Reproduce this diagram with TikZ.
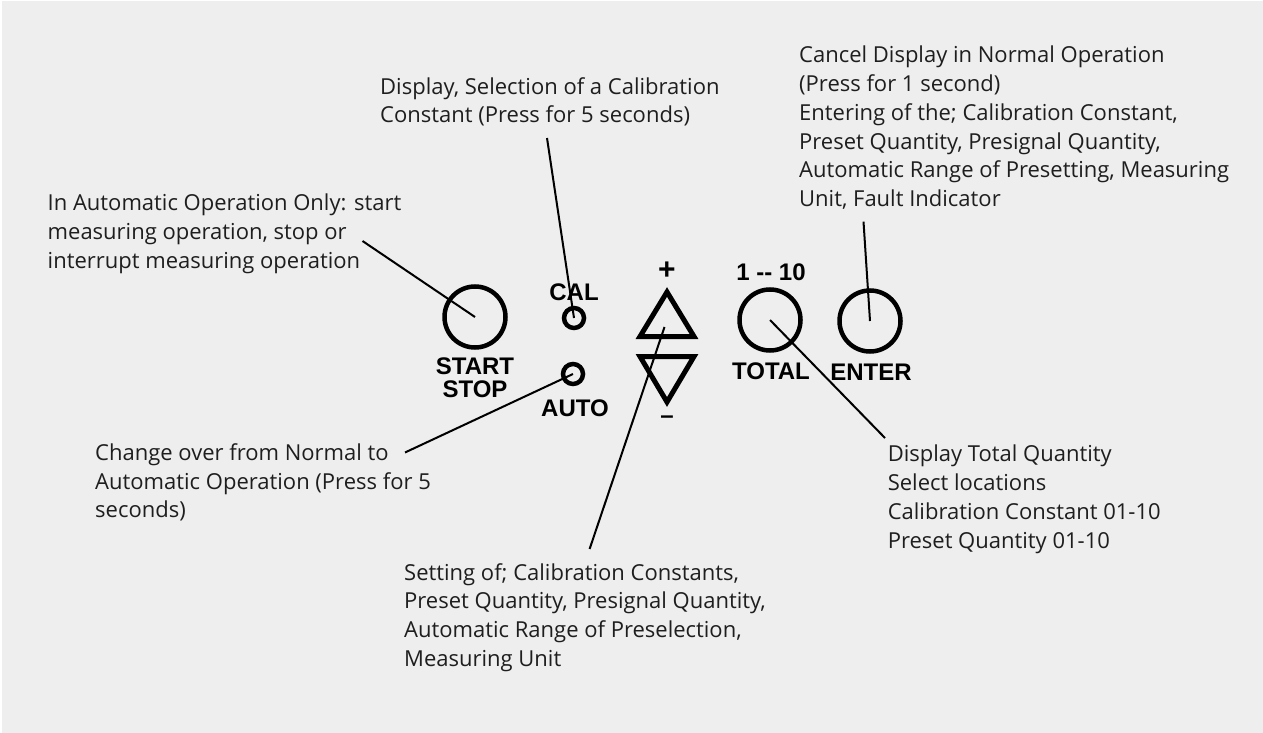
\documentclass[tikz,border=0pt]{standalone}
\usepackage{fontspec}
\setmainfont{Open Sans}
\newfontfamily\keyfont{Liberation Sans}
\definecolor{panelgray}{HTML}{EEEEEE}
\definecolor{notetext}{HTML}{1E1E1E}
\begin{document}
\begin{tikzpicture}[x=1pt,y=-1pt,
    note/.style={anchor=north west, inner sep=0pt, align=left, text=notetext,
      font=\fontsize{22}{28.7}\selectfont},
    key/.style={inner sep=0pt, font=\keyfont\bfseries\fontsize{24}{24}\selectfont},
    ring/.style={circle, draw, line width=4.5pt, minimum size=61pt, inner sep=0pt},
    led/.style={circle, draw, line width=4.5pt, minimum size=20pt, inner sep=0pt},
    leader/.style={line width=2pt}]
  % background
  \fill[white] (0,0) rectangle (1263,733);
  \fill[panelgray] (1.5,1.5) rectangle (1263,733);

  % keys
  \node[ring] (start) at (475,317) {};
  \node[key] (startlbl) at (475,366) {START};
  \node[key] (stoplbl) at (475,389) {STOP};
  \node[led] (cal) at (574,318) {};
  \node[key] (callbl) at (574,292) {CAL};
  \node[led] (auto) at (573,374) {};
  \node[key] (autolbl) at (575,408) {AUTO};
  \node[ring] (total) at (770,320) {};
  \node[key] (rangelbl) at (771,272) {1 -{}- 10};
  \node[key] (totallbl) at (771,371) {TOTAL};
  \node[ring] (enter) at (870,321) {};
  \node[key] (enterlbl) at (871,372) {ENTER};

  % plus / minus
  \draw[line width=5pt] (667,292) -- (694,336.5) -- (640,336.5) -- cycle;
  \draw[line width=5pt] (640,356.5) -- (694,356.5) -- (667,402) -- cycle;
  \node[key, font=\keyfont\bfseries\fontsize{30}{30}\selectfont] (plus) at (667,271) {+};
  \node[key] (minus) at (667,420) {\textendash};
  \coordinate (updown) at (664.5,327);

  % notes
  \node[note] (calnote) at (380,77)
    {Display, Selection of a Calibration\\Constant (Press for 5 seconds)};
  \node[note] (enternote) at (799,46)
    {Cancel Display in Normal Operation\\(Press for 1 second)\\Entering of the; Calibration Constant,\\Preset Quantity, Presignal Quantity,\\Automatic Range of Presetting, Measuring\\Unit, Fault Indicator};
  \node[note] (startnote) at (47.5,194)
    {In Automatic Operation Only: start\\measuring operation, stop or\\interrupt measuring operation};
  \node[note] (autonote) at (95,443.5)
    {Change over from Normal to\\Automatic Operation (Press for 5\\seconds)};
  \node[note] (totalnote) at (887.6,445)
    {Display Total Quantity\\Select locations\\Calibration Constant 01-10\\Preset Quantity 01-10};
  \node[note] (setnote) at (404,563)
    {Setting of; Calibration Constants,\\Preset Quantity, Presignal Quantity,\\Automatic Range of Preselection,\\Measuring Unit};

  % leaders
  \coordinate (startend) at (362.5,241);
  \coordinate (calend) at (547,138);
  \coordinate (autoend) at (405,452.5);
  \coordinate (setend) at (589.6,549);
  \coordinate (totalend) at (885,438);
  \coordinate (enterend) at (863.5,221.6);
  \draw[leader] (startend) -- (start.center);
  \draw[leader] (calend) -- (cal.center);
  \draw[leader] (autoend) -- (auto.center);
  \draw[leader] (setend) -- (updown);
  \draw[leader] (totalend) -- (total.center);
  \draw[leader] (enterend) -- (enter.center);
\end{tikzpicture}
\end{document}
